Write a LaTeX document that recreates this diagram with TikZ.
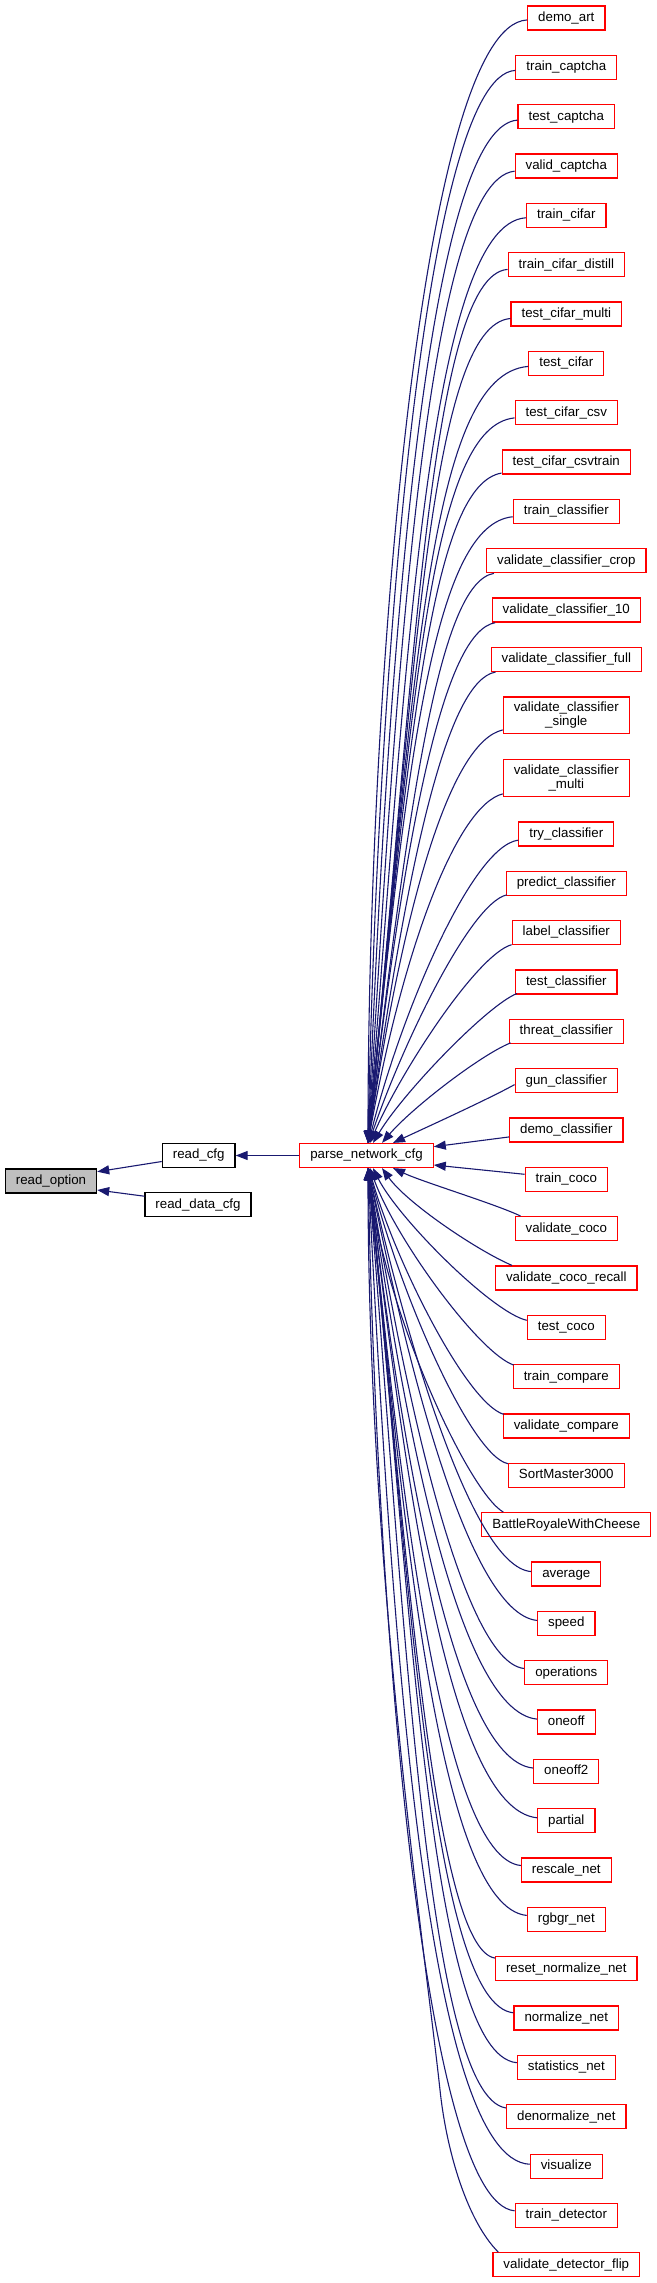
\documentclass[tikz,border=0pt]{standalone}
\usepackage{fontspec}
\newfontfamily\lsans{Liberation Sans}
\usetikzlibrary{arrows.meta,calc}
\definecolor{edgeblue}{HTML}{191970}
\definecolor{boxred}{HTML}{FF0000}
\definecolor{rootgray}{HTML}{BFBFBF}
\tikzset{
  box/.style={draw, line width=1.2bp, fill=white, font=\lsans\fontsize{13.3bp}{14.5bp}\selectfont, inner xsep=10.5bp, inner ysep=4.9bp},
  one/.style={box, minimum height=24bp, text height=9.7bp, text depth=2.9bp},
  caller/.style={one, draw=boxred},
  caller2/.style={box, draw=boxred, align=center},
  plain/.style={one, draw=black},
  root/.style={one, draw=black, fill=rootgray},
  edge/.style={draw=edgeblue, line width=1.1bp, {Triangle[length=12bp,width=9bp]}-},
}
% top edge: #1 node, #2 end dx on parse top, #3 b, #4 tilt, #5 c1 x, #6 slope
\newcommand\topE[6]{\draw[edge] ($(pn.north)+(#2,0)$) .. controls ($(pn.north)+(#2,0)+({#4*#3},-#3)$) and ($(#1.center)+({#5-566.3},{#6*(566.3-#5)})$) .. (#1);}
\newcommand\botE[6]{\draw[edge] ($(pn.south)+(#2,0)$) .. controls ($(pn.south)+(#2,0)+({#4*#3},#3)$) and ($(#1.center)+({#5-566.3},{-#6*(566.3-#5)})$) .. (#1);}
\newcommand\nearE[5]{\draw[edge] ($(pn.#1)+(#2,0)$) .. controls ($(pn.#1)+(#2,0)+(#3)$) and ($(#4)+(#5)$) .. (#4);}
\begin{document}
\begin{tikzpicture}[x=1bp,y=-1bp]
\useasboundingbox (0,0) rectangle (657,2283);
% left part
\node[root]  (ro)  at (51,1181)    {read\_option};
\node[plain] (rc)  at (198.7,1155.5) {read\_cfg};
\node[plain] (rdc) at (198,1204.7) {read\_data\_cfg};
\node[one, draw=boxred] (pn) at (366.5,1155.5) {parse\_network\_cfg};
% callers
\node[caller] (n1)  at (566.3,18)     {demo\_art};
\node[caller] (n2)  at (566.3,67.34)  {train\_captcha};
\node[caller] (n3)  at (566.3,116.68) {test\_captcha};
\node[caller] (n4)  at (566.3,166.02) {valid\_captcha};
\node[caller] (n5)  at (566.3,215.36) {train\_cifar};
\node[caller] (n6)  at (566.3,264.7)  {train\_cifar\_distill};
\node[caller] (n7)  at (566.3,314.04) {test\_cifar\_multi};
\node[caller] (n8)  at (566.3,363.38) {test\_cifar};
\node[caller] (n9)  at (566.3,412.72) {test\_cifar\_csv};
\node[caller] (n10) at (566.3,462.06) {test\_cifar\_csvtrain};
\node[caller] (n11) at (566.3,511.4)  {train\_classifier};
\node[caller] (n12) at (566.3,560.74) {validate\_classifier\_crop};
\node[caller] (n13) at (566.3,610.08) {validate\_classifier\_10};
\node[caller] (n14) at (566.3,659.42) {validate\_classifier\_full};
\node[caller2] (n15) at (566.3,715.3) {validate\_classifier\\\_single};
\node[caller2] (n16) at (566.3,778.0) {validate\_classifier\\\_multi};
\node[caller] (n17) at (566.3,833.9)  {try\_classifier};
\node[caller] (n18) at (566.3,883.24) {predict\_classifier};
\node[caller] (n19) at (566.3,932.58) {label\_classifier};
\node[caller] (n20) at (566.3,981.92) {test\_classifier};
\node[caller] (n21) at (566.3,1031.26) {threat\_classifier};
\node[caller] (n22) at (566.3,1080.6) {gun\_classifier};
\node[caller] (n23) at (566.3,1129.94) {demo\_classifier};
\node[caller] (n24) at (566.3,1179.28) {train\_coco};
\node[caller] (n25) at (566.3,1228.62) {validate\_coco};
\node[caller] (n26) at (566.3,1277.96) {validate\_coco\_recall};
\node[caller] (n27) at (566.3,1327.3)  {test\_coco};
\node[caller] (n28) at (566.3,1376.64) {train\_compare};
\node[caller] (n29) at (566.3,1425.98) {validate\_compare};
\node[caller] (n30) at (566.3,1475.32) {SortMaster3000};
\node[caller] (n31) at (566.3,1524.66) {BattleRoyaleWithCheese};
\node[caller] (n32) at (566.3,1574.0)  {average};
\node[caller] (n33) at (566.3,1623.34) {speed};
\node[caller] (n34) at (566.3,1672.68) {operations};
\node[caller] (n35) at (566.3,1722.02) {oneoff};
\node[caller] (n36) at (566.3,1771.36) {oneoff2};
\node[caller] (n37) at (566.3,1820.7)  {partial};
\node[caller] (n38) at (566.3,1870.04) {rescale\_net};
\node[caller] (n39) at (566.3,1919.38) {rgbgr\_net};
\node[caller] (n40) at (566.3,1968.72) {reset\_normalize\_net};
\node[caller] (n41) at (566.3,2018.06) {normalize\_net};
\node[caller] (n42) at (566.3,2067.4)  {statistics\_net};
\node[caller] (n43) at (566.3,2116.74) {denormalize\_net};
\node[caller] (n44) at (566.3,2166.08) {visualize};
\node[caller] (n45) at (566.3,2215.42) {train\_detector};
\node[caller] (n46) at (566.3,2264.76) {validate\_detector\_flip};
% start points of the near edges
\coordinate (s18) at ($(n18.south west)+(1,-1)$);
\coordinate (s19) at ($(n19.south west)+(0,-0.5)$);
\coordinate (s20) at ($(n20.south west)+(2,-1)$);
\coordinate (s21) at ($(n21.south west)+(2,-1)$);
\coordinate (s22) at ($(n22.west)+(0,4)$);
\coordinate (s25) at ($(n25.north west)+(6,0)$);
\coordinate (s26) at ($(n26.north west)+(17,0)$);
\coordinate (s27) at ($(n27.west)+(0,-7)$);
\coordinate (s28) at ($(n28.north west)+(1,1)$);
\coordinate (s29) at ($(n29.north west)+(1,1)$);
\coordinate (s31) at ($(n31.north west)+(22,0)$);
\coordinate (s46) at ($(n46.north west)+(6,0)$);
\coordinate (m46) at (440,2090);
% left edges
\draw[edge] (rc) -- (pn);
\draw[edge] ($(ro.east)+(0,-9.3)$) -- ($(rc.west)+(0,6)$);
\draw[edge] ($(ro.east)+(0,9)$) -- ($(rdc.west)+(0,-8.5)$);
% top edges
\topE{n1}{1.5}{445}{0}{420}{.05}
\topE{n2}{1.5}{450}{.02}{422}{.06}
\topE{n3}{1.5}{455}{.04}{424}{.07}
\topE{n4}{1.5}{460}{.06}{426}{.1}
\topE{n5}{1.5}{465}{.08}{428}{.06}
\topE{n6}{1.5}{470}{.1}{430}{.08}
\topE{n7}{1.5}{470}{.1}{430}{.08}
\topE{n8}{1.5}{480}{.1}{430}{.08}
\topE{n9}{1.5}{460}{.1}{432}{.1}
\topE{n10}{1.5}{430}{.1}{434}{.17}
\topE{n11}{1.5}{400}{.1}{436}{.1}
\topE{n12}{1.5}{350}{.12}{440}{.174}
\topE{n13}{1.5}{320}{.12}{444}{.177}
\topE{n14}{1.5}{290}{.14}{448}{.178}
\topE{n15}{1.5}{250}{.15}{452}{.23}
\topE{n16}{1.5}{200}{.18}{458}{.25}
\topE{n17}{2}{130}{.25}{472}{.13}
\nearE{north}{2.5}{30,-90}{s18}{-38,9}
\nearE{north}{3.5}{30,-70}{s19}{-35,10}
\nearE{north}{6.5}{30,-50}{s20}{-30,12}
\nearE{north}{15.5}{30,-35}{s21}{-30,12}
\nearE{north}{26.5}{30,-14}{s22}{-25,14}
% side edges
\draw[edge] ($(pn.east)+(0,-8.8)$) -- ($(n23.west)+(0,7)$);
\draw[edge] ($(pn.east)+(0,9.5)$) -- ($(n24.west)+(0,-5)$);
% bottom edges
\nearE{south}{26.5}{30,14}{s25}{-25,-12}
\nearE{south}{15.5}{25,35}{s26}{-35,-15}
\nearE{south}{6.5}{25,50}{s27}{-35,-8}
\nearE{south}{3.5}{25,70}{s28}{-35,-12}
\nearE{south}{2.5}{25,90}{s29}{-38,-12}
\botE{n30}{2}{130}{.25}{472}{.2}
\nearE{south}{1.5}{15,140}{s31}{-35,-20}
\botE{n32}{1.5}{150}{.22}{470}{.07}
\botE{n33}{1.5}{175}{.2}{466}{.1}
\botE{n34}{1.5}{200}{.16}{460}{.1}
\botE{n35}{1.5}{230}{.14}{455}{.1}
\botE{n36}{1.5}{260}{.12}{450}{.1}
\botE{n37}{1.5}{290}{.12}{446}{.1}
\botE{n38}{1.5}{320}{.1}{442}{.1}
\botE{n39}{1.5}{350}{.1}{438}{.1}
\botE{n40}{1.5}{380}{.1}{434}{.15}
\botE{n41}{1.5}{410}{.1}{432}{.1}
\botE{n42}{1.5}{440}{.1}{430}{.095}
\botE{n43}{1.5}{460}{.08}{428}{.146}
\botE{n44}{1.5}{460}{.05}{426}{.05}
\botE{n45}{1.5}{455}{.02}{424}{.09}
\draw[edge] ($(pn.south)+(1.5,0)$) .. controls ($(pn.south)+(1.5,400)$) and (425,1950) .. (m46) .. controls (447,2155) and ($(s46)+(-30,-30)$) .. (s46);
\end{tikzpicture}
\end{document}
